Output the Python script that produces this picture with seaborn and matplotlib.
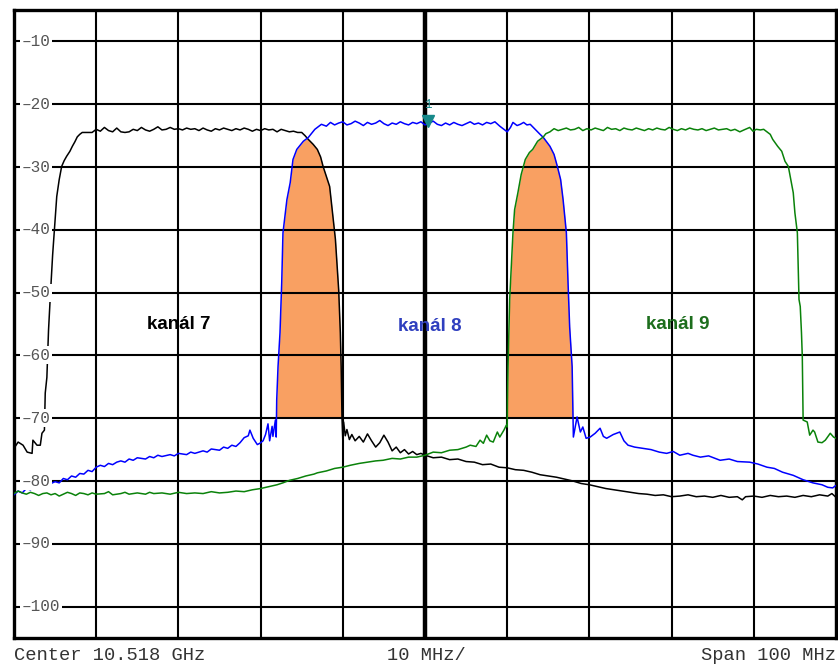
import matplotlib
matplotlib.use("Agg")
import matplotlib.pyplot as plt
import numpy as np
import pandas as pd
import seaborn as sns

# frequency offset from centre (MHz) and level (dB)
k7_mhz = [-50.0, -49.5, -48.9, -48.4, -47.8, -47.7, -47.2, -46.8, -46.6, -46.3,
          -46.2, -46.0, -45.8, -45.6, -45.3, -45.0, -44.8, -44.5, -44.2, -43.9,
          -43.6, -43.2, -42.9, -42.6, -42.3, -42.0, -41.7, -41.1, -40.5, -40.0,
          -39.5, -39.0, -38.5, -38.0, -37.5, -37.0, -36.5, -36.0, -35.5, -35.0,
          -34.5, -34.0, -33.5, -33.0, -32.5, -32.0, -31.5, -31.0, -30.5, -30.0,
          -29.5, -29.0, -28.5, -28.0, -27.5, -27.0, -26.5, -26.0, -25.5, -25.0,
          -24.5, -24.0, -23.5, -23.0, -22.5, -22.0, -21.5, -21.0, -20.5, -20.0,
          -19.5, -19.0, -18.5, -18.0, -17.5, -17.0, -16.5, -16.0, -15.5, -15.0,
          -14.6, -14.2, -13.6, -13.1, -12.7, -12.4, -12.0, -11.6, -11.2, -10.9,
          -10.7, -10.5, -10.3, -10.2, -10.1, -10.0, -9.9, -9.7, -9.5, -9.2,
          -8.9, -8.5, -8.0, -7.5, -7.0, -6.5, -6.0, -5.5, -5.0, -4.5,
          -4.0, -3.5, -3.0, -2.5, -2.0, -1.5, -1.0, -0.5, 0.0, 0.5,
          1.0, 2.0, 3.0, 4.0, 5.0, 6.0, 7.0, 8.0, 9.0, 10.0,
          11.0, 12.0, 13.0, 14.0, 15.0, 16.0, 17.0, 18.0, 19.0, 20.0,
          21.0, 22.0, 23.0, 24.0, 25.0, 26.0, 27.0, 28.0, 29.0, 30.0,
          31.0, 32.0, 33.0, 34.0, 35.0, 36.0, 37.0, 38.0, 38.6, 39.0,
          40.0, 41.0, 42.0, 43.0, 44.0, 45.0, 46.0, 47.0, 48.0, 49.0,
          49.5, 50.0]
k7_db = [-74.8, -73.8, -74.3, -75.4, -75.6, -73.5, -74.3, -74.3, -72.4, -71.9,
         -66.0, -63.5, -56.0, -51.0, -44.0, -38.5, -34.7, -32.0, -29.9, -29.0,
         -28.3, -27.5, -26.7, -26.0, -25.2, -24.8, -24.5, -24.5, -24.5, -24.0,
         -24.3, -23.7, -24.2, -24.4, -23.8, -24.4, -24.5, -24.4, -24.0, -24.2,
         -23.7, -24.1, -24.3, -24.0, -23.6, -24.1, -24.0, -23.7, -24.0, -23.9,
         -24.1, -23.8, -24.0, -23.9, -24.2, -23.8, -24.1, -24.3, -23.9, -24.1,
         -23.8, -24.0, -24.2, -23.9, -24.1, -23.8, -24.0, -24.3, -24.0, -24.2,
         -23.9, -24.1, -24.0, -24.4, -24.0, -24.2, -24.4, -24.3, -24.5, -24.5,
         -25.0, -25.6, -26.4, -27.2, -28.4, -29.9, -31.5, -33.1, -37.9, -41.5,
         -45.5, -49.6, -56.4, -61.8, -69.8, -73.5, -70.6, -72.8, -71.8, -73.4,
         -72.6, -73.6, -72.9, -73.8, -72.5, -73.6, -74.6, -73.9, -72.7, -73.8,
         -75.2, -74.6, -75.5, -75.0, -75.7, -75.3, -75.8, -75.6, -75.9, -76.1,
         -76.3, -76.2, -76.6, -76.5, -76.9, -77.0, -77.4, -77.3, -77.8, -77.9,
         -78.2, -78.3, -78.6, -79.0, -79.2, -79.4, -79.7, -80.0, -80.4, -80.6,
         -80.9, -81.2, -81.4, -81.6, -81.8, -82.0, -82.1, -82.3, -82.2, -82.5,
         -82.4, -82.2, -82.5, -82.4, -82.6, -82.3, -82.6, -82.5, -83.0, -82.5,
         -82.4, -82.6, -82.3, -82.5, -82.4, -82.6, -82.3, -82.5, -82.2, -82.4,
         -82.0, -82.6]

k8_mhz = [-50.0, -49.5, -49.0, -48.5, -48.0, -47.5, -47.0, -46.5, -46.0, -45.5,
          -45.0, -44.5, -44.0, -43.5, -43.0, -42.5, -42.0, -41.5, -41.0, -40.5,
          -40.0, -39.5, -39.0, -38.5, -38.0, -37.5, -37.0, -36.5, -36.0, -35.5,
          -35.0, -34.0, -33.5, -33.0, -32.5, -32.0, -31.0, -30.5, -30.0, -29.0,
          -28.5, -28.0, -27.0, -26.5, -26.0, -25.0, -24.5, -24.0, -23.5, -23.0,
          -22.5, -22.0, -21.5, -21.3, -20.9, -20.4, -20.1, -19.7, -19.4, -19.2,
          -19.1, -18.9, -18.6, -18.5, -18.2, -18.1, -18.04, -17.88, -17.64, -17.43,
          -17.28, -16.8, -16.4, -16.06, -15.6, -14.8, -14.2, -13.4, -12.6, -12.0,
          -11.5, -11.0, -10.5, -10.0, -9.5, -9.0, -8.5, -8.0, -7.5, -7.0,
          -6.5, -6.0, -5.5, -5.0, -4.5, -4.0, -3.5, -3.0, -2.5, -2.0,
          -1.5, -1.0, -0.5, 0.0, 0.5, 1.0, 1.5, 2.0, 2.5, 3.0,
          3.5, 4.0, 4.5, 5.0, 5.5, 6.0, 6.5, 7.0, 7.5, 8.0,
          8.5, 9.1, 9.6, 10.0, 10.4, 10.7, 11.2, 11.6, 12.0, 12.4,
          12.8, 13.4, 14.0, 14.4, 14.8, 15.2, 15.7, 16.1, 16.5, 16.8,
          17.2, 17.4, 17.6, 17.9, 18.0, 18.05, 18.5, 18.9, 19.2, 19.6,
          20.1, 20.7, 21.3, 21.7, 22.1, 22.9, 23.7, 24.2, 24.7, 25.5,
          26.5, 27.5, 28.5, 29.4, 30.2, 31.0, 32.0, 32.6, 33.5, 34.5,
          35.9, 37.0, 38.0, 39.5, 40.5, 41.6, 42.5, 43.5, 44.8, 46.0,
          47.2, 48.3, 49.0, 49.6, 50.0]
k8_db = [-82.2, -81.6, -81.9, -81.2, -81.4, -80.9, -81.1, -80.6, -80.8, -80.4,
         -80.1, -80.3, -79.6, -79.8, -79.2, -79.4, -78.8, -78.9, -78.3, -78.5,
         -77.8, -77.5, -77.7, -77.2, -77.4, -77.0, -76.8, -77.0, -76.5, -76.7,
         -76.3, -76.5, -76.1, -76.3, -75.9, -76.1, -75.8, -76.0, -75.6, -75.8,
         -75.4, -75.6, -75.2, -75.4, -74.9, -75.1, -74.6, -74.8, -74.3, -74.5,
         -73.9, -73.1, -72.8, -71.9, -73.2, -74.2, -74.0, -73.6, -72.6, -71.5,
         -70.9, -73.6, -71.3, -72.9, -70.3, -73.0, -67.1, -61.8, -56.4, -48.4,
         -40.5, -35.2, -32.5, -28.8, -27.2, -25.9, -25.3, -24.0, -23.2, -23.5,
         -22.9, -23.3, -23.0, -22.8, -23.3, -23.1, -22.7, -23.0, -23.4, -22.9,
         -23.2, -23.0, -22.6, -23.1, -23.4, -23.0, -23.2, -22.8, -23.1, -23.3,
         -22.9, -23.1, -22.8, -23.3, -23.0, -22.7, -23.2, -23.4, -23.0, -23.3,
         -22.9, -23.2, -23.4, -23.1, -22.8, -23.2, -23.0, -23.3, -22.9, -23.1,
         -22.8, -23.5, -24.0, -24.4, -23.7, -22.9, -23.4, -23.2, -22.9, -23.3,
         -23.2, -24.0, -24.8, -25.3, -26.0, -26.7, -28.0, -29.9, -32.0, -35.2,
         -40.5, -48.4, -55.5, -61.8, -69.8, -73.0, -69.8, -72.2, -71.4, -73.2,
         -73.0, -72.4, -71.6, -72.9, -73.2, -72.6, -72.2, -73.6, -74.3, -74.6,
         -74.8, -75.0, -75.4, -75.6, -75.3, -75.9, -75.6, -75.9, -76.2, -76.0,
         -76.7, -76.5, -76.9, -77.0, -77.3, -77.8, -78.0, -78.6, -79.1, -79.8,
         -80.3, -80.6, -81.0, -81.1, -80.7]

k9_mhz = [-50.0, -49.5, -49.0, -48.5, -48.0, -47.5, -47.0, -46.5, -46.0, -45.5,
          -45.0, -44.5, -44.0, -43.5, -43.0, -42.5, -42.0, -41.5, -41.0, -40.5,
          -40.0, -39.0, -38.5, -38.0, -37.0, -36.5, -36.0, -35.0, -34.0, -33.5,
          -33.0, -32.0, -31.0, -30.0, -29.0, -28.0, -27.0, -26.0, -25.0, -24.0,
          -23.0, -22.0, -21.0, -20.0, -19.0, -18.0, -17.3, -16.5, -15.5, -14.5,
          -13.5, -13.1, -12.0, -11.0, -10.0, -9.1, -8.0, -7.0, -6.0, -5.1,
          -4.0, -3.0, -2.0, -1.0, 0.0, 1.0, 2.0, 3.0, 4.0, 5.0,
          5.5, 6.2, 6.7, 7.1, 7.5, 7.9, 8.3, 8.8, 9.1, 9.6,
          9.9, 10.0, 10.03, 10.1, 10.2, 10.3, 10.5, 10.7, 10.9, 11.3,
          11.7, 12.2, 12.7, 13.1, 13.7, 14.4, 14.7, 15.2, 15.7, 16.2,
          16.7, 17.2, 17.7, 18.2, 18.7, 19.2, 19.7, 20.2, 20.7, 21.2,
          21.7, 22.2, 22.7, 23.2, 23.7, 24.2, 24.7, 25.2, 25.7, 26.2,
          26.7, 27.2, 27.7, 28.2, 28.7, 29.2, 29.7, 30.2, 30.7, 31.2,
          31.7, 32.2, 32.7, 33.2, 33.7, 34.2, 34.7, 35.2, 35.7, 36.2,
          36.7, 37.2, 37.7, 38.3, 38.8, 39.5, 39.9, 40.3, 40.8, 41.2,
          41.6, 42.0, 42.3, 42.9, 43.4, 43.8, 44.2, 44.5, 44.8, 45.0,
          45.3, 45.4, 45.5, 45.65, 45.8, 45.9, 45.95, 46.0, 46.5, 46.8,
          47.2, 47.4, 47.8, 48.3, 48.7, 49.3, 49.7, 50.0]
k9_db = [-82.0, -81.6, -81.9, -82.1, -81.8, -82.0, -82.3, -82.0, -81.9, -82.2,
         -82.0, -82.4, -82.1, -81.8, -82.0, -82.3, -81.9, -82.0, -82.2, -81.9,
         -82.1, -82.0, -81.7, -82.2, -82.0, -81.8, -82.1, -81.9, -82.1, -81.8,
         -82.0, -81.9, -82.1, -81.8, -82.0, -81.9, -82.0, -81.7, -81.9, -81.8,
         -81.6, -81.7, -81.4, -81.2, -80.9, -80.6, -80.3, -79.9, -79.6, -79.2,
         -78.9, -78.7, -78.4, -78.0, -77.8, -77.5, -77.2, -77.0, -76.8, -76.7,
         -76.4, -76.5, -76.2, -76.2, -75.9, -75.4, -75.5, -75.1, -75.0, -74.6,
         -74.3, -74.5, -73.5, -74.0, -72.7, -73.6, -73.8, -72.2, -73.0, -71.9,
         -71.1, -71.4, -67.1, -61.8, -56.4, -51.1, -45.9, -40.5, -36.8, -34.1,
         -31.2, -28.8, -27.7, -27.2, -25.9, -25.2, -24.7, -24.4, -23.9, -24.2,
         -24.0, -23.8, -24.1, -24.0, -23.7, -24.2, -23.9, -24.1, -23.8, -24.0,
         -24.2, -23.7, -24.0, -23.9, -24.2, -23.8, -24.0, -24.1, -23.8, -24.0,
         -24.2, -23.9, -24.1, -23.8, -24.0, -24.1, -23.7, -24.0, -24.2, -23.9,
         -24.1, -23.8, -24.0, -24.1, -23.9, -24.2, -24.0, -23.8, -24.1, -24.0,
         -23.9, -24.2, -24.0, -24.4, -24.1, -23.7, -24.3, -24.0, -24.1, -24.0,
         -24.4, -24.8, -25.6, -26.7, -27.5, -29.1, -29.9, -32.0, -34.1, -37.3,
         -40.5, -45.9, -51.1, -52.2, -56.4, -60.2, -66.0, -70.3, -70.6, -72.7,
         -71.9, -72.2, -73.8, -73.9, -73.5, -72.4, -73.0, -73.2]

channel_names = ["kanál 7", "kanál 8", "kanál 9"]
channel_label_mhz = [-29.9, 0.6, 30.7]
channel_label_db = [-55.0, -55.4, -55.0]
trace_colors = ["#000000", "#0000ff", "#0a820a"]
label_colors = ["#000000", "#2f3fbf", "#1d6e1d"]

y_ticks = [-10, -20, -30, -40, -50, -60, -70, -80, -90, -100]
x_ticks = [-50, -40, -30, -20, -10, 0, 10, 20, 30, 40, 50]
marker_mhz, marker_db = 0.35, -22.6
overlap_floor = -70.0
fill_color = "#f9a062"

sns.set_theme(style="white")
plt.rcParams["font.family"] = ["Liberation Sans", "DejaVu Sans"]

fig = plt.figure(figsize=(8.38, 6.64), dpi=100)
ax = fig.add_axes([14 / 838, 26 / 664, 822 / 838, 628 / 664])

traces = [(k7_mhz, k7_db), (k8_mhz, k8_db), (k9_mhz, k9_db)]
for (f, v), c in zip(traces, trace_colors):
    df = pd.DataFrame({"f": f, "v": v})
    sns.lineplot(data=df, x="f", y="v", ax=ax, color=c, lw=1.1,
                 estimator=None, sort=False, zorder=3)

# guard-band overlap between neighbouring channels
for (fa, va), (fb, vb), lo, hi in [(traces[1], traces[0], -18.1, -10.0),
                                   (traces[2], traces[1], 10.0, 18.1)]:
    xs = np.linspace(lo, hi, 500)
    env = np.minimum(np.interp(xs, fa, va), np.interp(xs, fb, vb))
    ax.fill_between(xs, overlap_floor, env, where=env > overlap_floor,
                    interpolate=True, color=fill_color, lw=0, zorder=1)

ax.set_xlim(-50, 50)
ax.set_ylim(-105, -5)
ax.set_xticks(x_ticks)
ax.set_yticks(y_ticks)
ax.set_axisbelow(False)
ax.grid(True, color="black", lw=1.5)
ax.axvline(0, color="black", lw=3.2, zorder=2.6)
ax.tick_params(length=0, labelleft=False, labelbottom=False)
ax.set_xlabel("")
ax.set_ylabel("")
for s in ax.spines.values():
    s.set_color("black")
    s.set_linewidth(2.4)

for t in y_ticks:
    ax.text(-49.05, t, f"\u2013{abs(t)}", ha="left", va="center", fontsize=11.5,
            family="Liberation Mono", color="#555555", zorder=4,
            bbox=dict(facecolor="white", edgecolor="none", pad=1.0))

for name, x, y, c in zip(channel_names, channel_label_mhz, channel_label_db, label_colors):
    ax.text(x, y, name, ha="center", va="center", fontsize=13.5,
            fontweight="bold", color=c, zorder=5)

ax.plot([marker_mhz], [marker_db], marker="v", ms=9, color="#17898a",
        ls="none", zorder=5)
ax.text(marker_mhz, marker_db + 2.4, "1", ha="center", va="center",
        fontsize=9, family="Liberation Mono", color="#17898a", zorder=5)

mono = dict(family="Liberation Mono", fontsize=13.5, color="#333333", va="center")
fig.text(14 / 838, 1 - 655 / 664, "Center 10.518 GHz", ha="left", **mono)
fig.text(426 / 838, 1 - 655 / 664, "10 MHz/", ha="center", **mono)
fig.text(836 / 838, 1 - 655 / 664, "Span 100 MHz", ha="right", **mono)

fig.savefig("out.png", dpi=100)
